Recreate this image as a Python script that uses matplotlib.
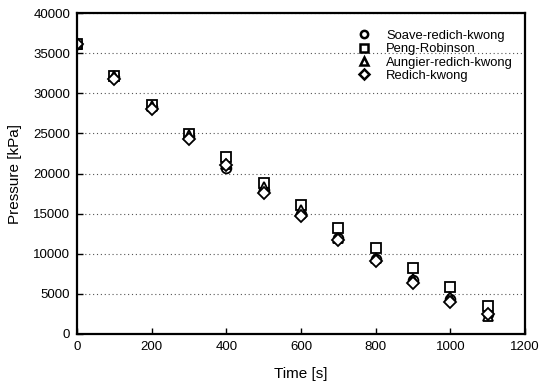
import matplotlib
matplotlib.use("Agg")
import matplotlib.pyplot as plt

plt.rcParams['font.family'] = ['Liberation Sans', 'DejaVu Sans']

# Time steps [s]
time = [0, 100, 200, 300, 400, 500, 600, 700, 800, 900, 1000, 1100]

# Pressure [kPa] for each equation of state
soave_rk = [36200, 32000, 28300, 24700, 20700, 17900, 15000, 11900, 9300, 6700, 4400, 2500]
peng_rob = [36200, 32200, 28500, 24900, 22050, 18800, 16080, 13250, 10680, 8190, 5820, 3490]
aungier_rk = [36200, 32200, 28400, 24800, 21200, 18300, 15400, 12000, 9500, 6900, 4600, 2200]
redlich_kwong = [36200, 31800, 28000, 24300, 21050, 17600, 14750, 11700, 9130, 6320, 4000, 2450]

labels = ["Soave-redich-kwong", "Peng-Robinson", "Aungier-redich-kwong", "Redich-kwong"]
markers = ["o", "s", "^", "D"]
sizes = [7, 7, 7, 6.3]

fig = plt.figure(figsize=(5.39, 3.86), dpi=100)
ax = fig.add_axes([0.143, 0.135, 0.831, 0.831])

for series, lab, m, ms in zip([soave_rk, peng_rob, aungier_rk, redlich_kwong], labels, markers, sizes):
    ax.plot(time, series, linestyle="none", marker=m, markersize=ms,
            markerfacecolor="white", markeredgecolor="black",
            markeredgewidth=1.3, label=lab)

ax.set_xlim(0, 1200)
ax.set_ylim(0, 40000)
ax.set_xticks(range(0, 1201, 200))
ax.set_yticks(range(0, 40001, 5000))

# dotted horizontal grid
ax.yaxis.grid(True, linestyle=(0, (1, 2.5)), color="#555555", linewidth=0.8)
ax.set_axisbelow(True)

for s in ax.spines.values():
    s.set_linewidth(1.6)
ax.tick_params(direction="in", length=4, width=1, labelsize=9.5, pad=5)

ax.set_xlabel("Time [s]", fontsize=11, labelpad=10)
ax.set_ylabel("Pressure [kPa]", fontsize=11, labelpad=8)

leg = ax.legend(loc="upper right", frameon=False, fontsize=9.4, markerscale=0.75,
                handletextpad=1.2, handlelength=1.0, labelspacing=0.1,
                borderaxespad=0, borderpad=0.4, bbox_to_anchor=(0.985, 0.965))
for h in leg.legend_handles:
    h.set_markeredgewidth(1.8)

fig.savefig("out.png", dpi=100)
